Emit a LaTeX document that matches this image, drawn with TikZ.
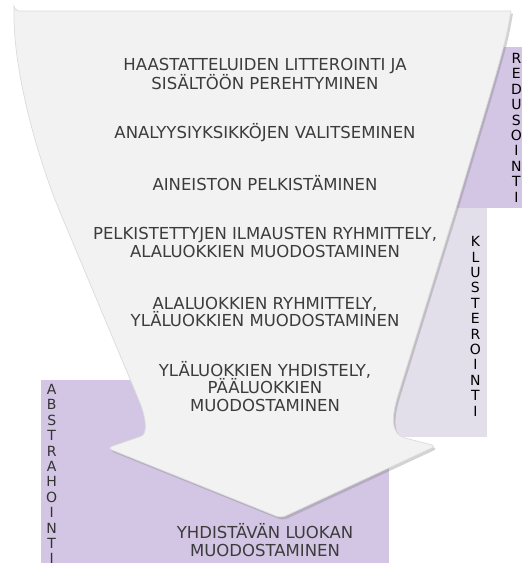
\documentclass[tikz,border=0pt]{standalone}
\usepackage{fontspec}
\setmainfont{DejaVu Sans}
\usepackage{tikz}
\usetikzlibrary{positioning,shadows}

\definecolor{funnelgray}{HTML}{F2F2F2}
\definecolor{lilac}{HTML}{D3C5E4}
\definecolor{lavgray}{HTML}{E3DFEA}
\definecolor{stagetext}{HTML}{3C3C3C}

\begin{document}
\begin{tikzpicture}[
  x=1pt, y=-1pt,
  node distance=38pt,
  band/.style={fill=#1, draw=none, inner sep=0pt, anchor=north west},
  stage/.style={align=center, inner sep=0pt, text=stagetext,
    font=\fontsize{16.5}{17.5}\selectfont},
  vlabel/.style={align=center, inner sep=0pt, text=black,
    font=\fontsize{14}{15.4}\selectfont},
  funnel/.style={fill=funnelgray, draw=black!14, line width=0.7pt,
    drop shadow={shadow xshift=2pt, shadow yshift=-2.5pt, opacity=0.35}}
]
\useasboundingbox (0,0) rectangle (522,563);

% phase bands behind the funnel
\node[band=lilac, minimum width=77pt, minimum height=161pt] (redu) at (445,47) {};
\node[band=lavgray, minimum width=97pt, minimum height=229pt] (klus) at (390,208) {};
\node[band=lilac, minimum width=348pt, minimum height=190pt] (abst) at (41,380) {};

\node[vlabel] (redutxt) at ([xshift=-6pt]redu.east) {R\\E\\D\\U\\S\\O\\I\\N\\T\\I};
\node[vlabel] (klustxt) at ([xshift=-12pt,yshift=-3.5pt]klus.east) {K\\L\\U\\S\\T\\E\\R\\O\\I\\N\\T\\I};
\node[vlabel, anchor=north west, text=black!80] (abstxt) at ([xshift=5pt,yshift=-4pt]abst.north west)
  {A\\B\\S\\T\\R\\A\\H\\O\\I\\N\\T\\I};

% the funnel arrow
\path[funnel] (14,11) -- (511,11)
  .. controls (505,45) .. (456,208) -- (398,395)
  .. controls (391,418) and (391,434) .. (405,438)
  [rounded corners=5pt] -- (436,446) -- (281,518) -- (107,448) -- (136,438)
  .. controls (148,434) and (146,418) .. (138,398)
  -- (60,212) .. controls (35,150) and (14,70) .. (14,11) -- cycle;

% analysis steps
\node[stage, anchor=base] (s1) at (265,89.5) {HAASTATTELUIDEN LITTEROINTI JA\\SISÄLTÖÖN PEREHTYMINEN};
\node[stage, below=33pt of s1] (s2) {ANALYYSIYKSIKKÖJEN VALITSEMINEN};
\node[stage, below=34pt of s2] (s3) {AINEISTON PELKISTÄMINEN};
\node[stage, below=36pt of s3] (s4) {PELKISTETTYJEN ILMAUSTEN RYHMITTELY,\\ALALUOKKIEN MUODOSTAMINEN};
\node[stage, below=39pt of s4] (s5) {ALALUOKKIEN RYHMITTELY,\\YLÄLUOKKIEN MUODOSTAMINEN};
\node[stage, below=34pt of s5] (s6) {YLÄLUOKKIEN YHDISTELY,\\PÄÄLUOKKIEN\\MUODOSTAMINEN};
\node[stage, anchor=base] (goal) at (265,556) {YHDISTÄVÄN LUOKAN\\MUODOSTAMINEN};
\end{tikzpicture}
\end{document}
